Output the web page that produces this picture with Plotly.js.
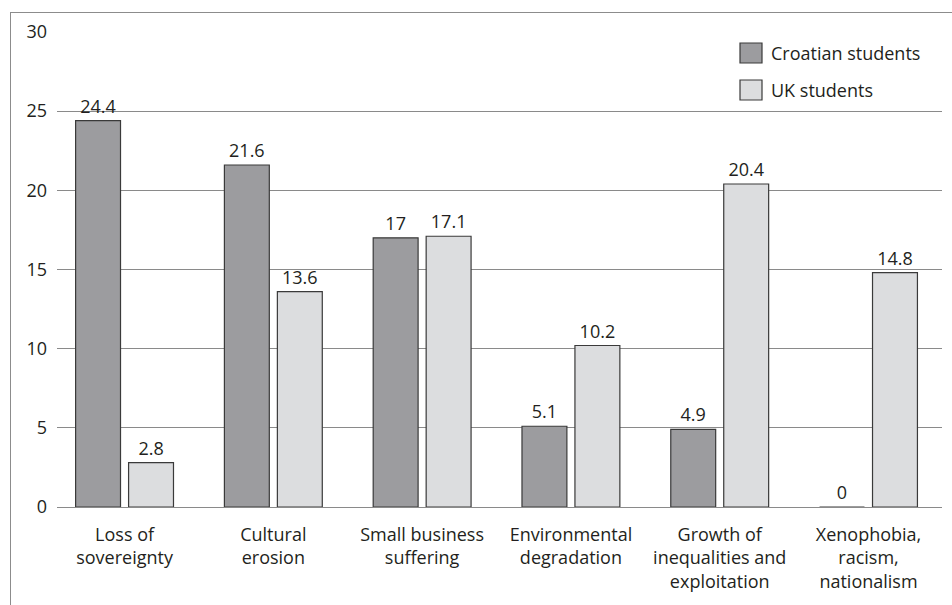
<!DOCTYPE html>
<html>
<head>
<meta charset="utf-8">
<script src="https://cdn.plot.ly/plotly-3.0.1.min.js"></script>
<style>
  html, body { margin: 0; padding: 0; background: #ffffff; }
  #wrap { position: relative; width: 952px; height: 605px; }
  #chart { position: absolute; left: 0; top: 0; width: 952px; height: 605px; }
  #frame {
    position: absolute; left: 10px; top: 12px; right: 0; bottom: 0;
    border-left: 1.5px solid #8c8c8c; border-top: 1.5px solid #8c8c8c;
    pointer-events: none;
  }
</style>
</head>
<body>
<div id="wrap">
  <div id="chart"></div>
  <div id="frame"></div>
</div>
<script>
// Perceived negative effects of globalisation (%)
const categories = [
  "Loss of<br>sovereignty",
  "Cultural<br>erosion",
  "Small business<br>suffering",
  "Environmental<br>degradation",
  "Growth of<br>inequalities and<br>exploitation",
  "Xenophobia,<br>racism,<br>nationalism"
];
const croatianStudents = [24.4, 21.6, 17, 5.1, 4.9, 0];
const ukStudents = [2.8, 13.6, 17.1, 10.2, 20.4, 14.8];
const seriesNames = ["Croatian students", "UK students"];
const yTicks = [0, 5, 10, 15, 20, 25, 30];

const textColor = "#231f20";
const fontFamily = "'Open Sans', 'Noto Sans', sans-serif";
const fontSize = 18;
const fills = ["#9c9c9f", "#dcdddf"];

function barTrace(name, values, fill) {
  return {
    type: "bar",
    name: name,
    x: categories,
    y: values,
    text: values.map(String),
    textposition: "outside",
    cliponaxis: false,
    textfont: { family: fontFamily, size: fontSize, color: textColor },
    marker: { color: fill, line: { color: "#3a3a3a", width: 1.2 } },
    hoverinfo: "x+y"
  };
}

const data = [
  barTrace(seriesNames[0], croatianStudents, fills[0]),
  barTrace(seriesNames[1], ukStudents, fills[1])
];

// Hand-placed legend: square swatches and labels in the top-right corner
const plotLeft = 57, plotWidth = 885, plotBottom = 507, plotHeight = 475;
const legendShapes = [];
const legendNotes = [];
seriesNames.forEach((name, i) => {
  const yTop = 43 + i * 37;
  legendShapes.push({
    type: "rect", xref: "paper", yref: "paper",
    x0: (740 - plotLeft) / plotWidth, x1: (762 - plotLeft) / plotWidth,
    y0: (plotBottom - (yTop + 20)) / plotHeight, y1: (plotBottom - yTop) / plotHeight,
    fillcolor: fills[i], line: { color: "#3a3a3a", width: 1.2 }
  });
  legendNotes.push({
    xref: "paper", yref: "paper",
    x: (769 - plotLeft) / plotWidth, y: (plotBottom - (yTop + 10)) / plotHeight,
    xanchor: "left", yanchor: "middle", showarrow: false,
    text: name, font: { family: fontFamily, size: fontSize, color: textColor }
  });
});

const layout = {
  width: 952,
  height: 605,
  margin: { l: 57, r: 10, t: 32, b: 98 },
  paper_bgcolor: "rgba(0,0,0,0)",
  plot_bgcolor: "rgba(0,0,0,0)",
  font: { family: fontFamily, size: fontSize, color: textColor },
  barmode: "group",
  bargap: 0.288,
  bargroupgap: 0.152,
  showlegend: false,
  xaxis: {
    type: "category",
    range: [-0.454, 5.494],
    showgrid: false,
    showline: false,
    zeroline: false,
    ticks: "",
    ticklabelstandoff: 15,
    tickfont: { family: fontFamily, size: fontSize, color: textColor },
    fixedrange: true
  },
  yaxis: {
    range: [0, 30],
    tickvals: yTicks,
    ticktext: yTicks.map(String),
    showgrid: true,
    gridcolor: "#8a8a8a",
    gridwidth: 1,
    zeroline: true,
    zerolinecolor: "#8a8a8a",
    zerolinewidth: 1,
    showline: false,
    ticks: "",
    ticklabelstandoff: 9,
    tickfont: { family: fontFamily, size: fontSize, color: textColor },
    fixedrange: true
  },
  shapes: legendShapes,
  annotations: legendNotes
};

Plotly.newPlot("chart", data, layout, { displayModeBar: false, staticPlot: true });
</script>
</body>
</html>
